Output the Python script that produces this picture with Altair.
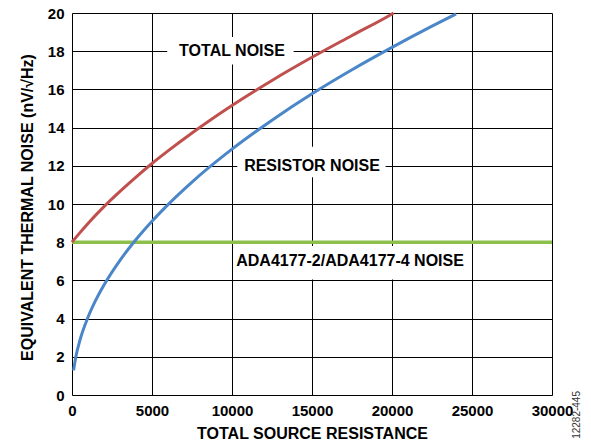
import altair as alt
import pandas as pd

# Resistor (thermal) noise curve
res_R = [100, 250, 500, 1000, 1500, 2000, 3000, 4000, 5000, 6000, 7500,
         10000, 12500, 15000, 17500, 20000, 22500, 24000]
res_noise = [1.29, 2.04, 2.88, 4.07, 4.99, 5.76, 7.05, 8.14, 9.10, 9.97, 11.15,
             12.87, 14.39, 15.77, 17.03, 18.20, 19.31, 19.95]

# Total noise curve
tot_R = [0, 500, 1000, 2000, 3000, 4000, 5000, 6000, 7500, 10000, 12500,
         15000, 17500, 20000, 20100]
tot_noise = [8.0, 8.50, 8.98, 9.86, 10.66, 11.41, 12.12, 12.78, 13.72, 15.16,
             16.47, 17.68, 18.82, 19.95, 20.0]

# Amplifier noise (flat)
amp_R = [0, 30000]
amp_noise = [8.0, 8.0]

# Tick values
x_ticks = [0, 5000, 10000, 15000, 20000, 25000, 30000]
y_ticks = [0, 2, 4, 6, 8, 10, 12, 14, 16, 18, 20]

# Annotations: text, centre (x, y) and white box extents (data units)
ann_text = ["TOTAL NOISE", "RESISTOR NOISE", "ADA4177-2/ADA4177-4 NOISE"]
ann_x = [10000, 15000, 17380]
ann_y = [18.0, 12.0, 7.0]
box_x1 = [5950, 10330, 10150]
box_x2 = [13850, 19600, 24700]
box_y1 = [17.3, 11.4, 6.05]
box_y2 = [18.75, 13.0, 7.8]

FONT = "Liberation Sans"
RED = "#C0504D"
BLUE = "#4A86C8"
GREEN = "#8DC04A"

xs = alt.Scale(domain=[0, 30000], nice=False)
ys = alt.Scale(domain=[0, 20], nice=False)

df_res = pd.DataFrame({"R": res_R, "N": res_noise})
df_tot = pd.DataFrame({"R": tot_R, "N": tot_noise})
df_amp = pd.DataFrame({"R": amp_R, "N": amp_noise})
df_ann = pd.DataFrame({"t": ann_text, "x": ann_x, "y": ann_y,
                       "x1": box_x1, "x2": box_x2, "y1": box_y1, "y2": box_y2})

xaxis = alt.Axis(values=x_ticks,
                 format="d", title="TOTAL SOURCE RESISTANCE",
                 grid=True, gridColor="black", gridWidth=1, gridOpacity=1,
                 ticks=False, tickSize=0, domain=False,
                 labelOverlap=False, labelFlush=False,
                 labelFont=FONT, labelFontSize=15, labelFontWeight="bold",
                 labelColor="black", labelPadding=8,
                 titleFont=FONT, titleFontSize=16, titleFontWeight="bold",
                 titleColor="black", titleX=240, titleY=43,
                 titleBaseline="alphabetic", titleAlign="center")
yaxis = alt.Axis(values=y_ticks, tickCount=11,
                 title="EQUIVALENT THERMAL NOISE (nV/√Hz)",
                 grid=True, gridColor="black", gridWidth=1, gridOpacity=1,
                 ticks=False, tickSize=0, domain=False,
                 labelOverlap=False, labelFlush=False,
                 labelFont=FONT, labelFontSize=15, labelFontWeight="bold",
                 labelColor="black", labelPadding=8,
                 titleFont=FONT, titleFontSize=16, titleFontWeight="bold",
                 titleColor="black", titleAngle=270, titleX=-45, titleY=194,
                 titleBaseline="middle", titleAlign="center")

X = lambda f: alt.X(f, scale=xs, axis=xaxis)
Y = lambda f: alt.Y(f, scale=ys, axis=yaxis)

boxes = alt.Chart(df_ann).mark_rect(fill="white").encode(
    x=X("x1:Q"), x2="x2:Q", y=Y("y1:Q"), y2="y2:Q",
)

amp = alt.Chart(df_amp).mark_line(color=GREEN, strokeWidth=3.5).encode(
    x=X("R:Q"), y=Y("N:Q"))
tot = alt.Chart(df_tot).mark_line(color=RED, strokeWidth=3, interpolate="monotone").encode(
    x=X("R:Q"), y=Y("N:Q"))
res = alt.Chart(df_res).mark_line(color=BLUE, strokeWidth=3, interpolate="monotone").encode(
    x=X("R:Q"), y=Y("N:Q"))

labels = alt.Chart(df_ann).mark_text(font=FONT, fontSize=16, fontWeight="bold",
                                     color="black", baseline="middle", align="center").encode(
    x=X("x:Q"), y=Y("y:Q"), text="t:N")

code = alt.Chart(pd.DataFrame({"t": ["12282-445"]})).mark_text(
    font=FONT, fontSize=10, color="#333333", angle=270, align="right",
    baseline="middle").encode(
    x=alt.value(505), y=alt.value(378), text="t:N")

chart = alt.layer(boxes, amp, res, tot, labels, code).properties(
    width=480, height=382,
    autosize=alt.AutoSizeParams(type="none"),
    padding={"left": 64, "top": 5, "right": 31, "bottom": 45},
).configure_view(stroke="black", strokeWidth=1.5).configure_axis(
    labelOverlap=False, labelFlush=False
).configure(background="white")

chart.save("out.html", embed_options={"renderer": "svg", "actions": False})
